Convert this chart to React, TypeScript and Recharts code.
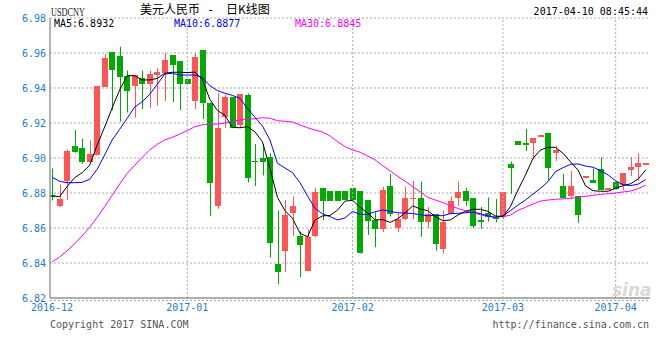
import React from 'react';
import { ComposedChart, Bar, Line, XAxis, YAxis, CartesianGrid, ReferenceLine } from 'recharts';

const opens = [6.879, 6.8727, 6.887, 6.907, 6.906, 6.898, 6.9017, 6.9407, 6.9604, 6.9583,
  6.9469, 6.9413, 6.9455, 6.9425, 6.9476, 6.9484, 6.9589, 6.9554, 6.945, 6.9327,
  6.9617, 6.9316, 6.8727, 6.9236, 6.935, 6.919, 6.936, 6.8985, 6.9, 6.9008,
  6.8394, 6.847, 6.8684, 6.8554, 6.8356, 6.8554, 6.883, 6.8811, 6.8811, 6.8811,
  6.883, 6.881, 6.876, 6.8646, 6.8596, 6.884, 6.8602, 6.8651, 6.8768, 6.877,
  6.8636, 6.8678, 6.848, 6.8678, 6.8773, 6.8811, 6.877, 6.8644, 6.8684, 6.8665,
  6.8665, 6.8966, 6.9097, 6.9087, 6.9084, 6.9122, 6.9145, 6.9027, 6.884, 6.8783,
  6.8783, 6.8893, 6.8874, 6.8935, 6.8826, 6.8865, 6.8846, 6.8931, 6.8947, 6.8969];
const highs = [6.894, 6.885, 6.905, 6.916, 6.911, 6.91, 6.941, 6.9594, 6.9604, 6.9636,
  6.95, 6.9476, 6.95, 6.95, 6.9513, 6.96, 6.9589, 6.9554, 6.945, 6.96,
  6.9617, 6.9316, 6.937, 6.936, 6.935, 6.9366, 6.937, 6.908, 6.908, 6.9027,
  6.87, 6.876, 6.878, 6.858, 6.859, 6.883, 6.883, 6.8811, 6.8811, 6.8811,
  6.883, 6.881, 6.876, 6.869, 6.8836, 6.891, 6.8684, 6.8836, 6.887, 6.8865,
  6.872, 6.868, 6.87, 6.878, 6.8865, 6.883, 6.877, 6.872, 6.8775, 6.8766,
  6.8807, 6.898, 6.9097, 6.9166, 6.9113, 6.9133, 6.9145, 6.907, 6.891, 6.8926,
  6.8783, 6.8897, 6.894, 6.9004, 6.8828, 6.8865, 6.8913, 6.9004, 6.9027, 6.8971];
const lows = [6.8757, 6.872, 6.876, 6.903, 6.8966, 6.898, 6.9017, 6.9407, 6.9274, 6.9207,
  6.926, 6.923, 6.928, 6.9287, 6.93, 6.9326, 6.9318, 6.9274, 6.9425, 6.928,
  6.9223, 6.867, 6.871, 6.917, 6.917, 6.917, 6.886, 6.884, 6.89, 6.843,
  6.828, 6.835, 6.8556, 6.832, 6.8356, 6.8547, 6.8646, 6.8756, 6.8756, 6.876,
  6.876, 6.8455, 6.856, 6.849, 6.8577, 6.8665, 6.8577, 6.8646, 6.865, 6.855,
  6.86, 6.847, 6.8455, 6.8678, 6.8726, 6.8726, 6.86, 6.8596, 6.8636, 6.8632,
  6.865, 6.8794, 6.9074, 6.904, 6.8993, 6.9122, 6.887, 6.8983, 6.8773, 6.8764,
  6.863, 6.8893, 6.8859, 6.8817, 6.8826, 6.882, 6.8817, 6.8897, 6.887, 6.8969];
const closes = [6.878, 6.8766, 6.904, 6.9034, 6.898, 6.9023, 6.941, 6.9573, 6.9503, 6.9465,
  6.9385, 6.9474, 6.9425, 6.9478, 6.9491, 6.956, 6.9531, 6.9425, 6.9425, 6.9575,
  6.9316, 6.8859, 6.9173, 6.935, 6.9173, 6.9366, 6.8884, 6.898, 6.898, 6.8513,
  6.835, 6.8674, 6.8727, 6.8503, 6.855, 6.8807, 6.8756, 6.8756, 6.8756, 6.876,
  6.876, 6.8455, 6.8642, 6.8593, 6.8817, 6.8678, 6.8651, 6.877, 6.8772, 6.8636,
  6.868, 6.8507, 6.8632, 6.8754, 6.8807, 6.8756, 6.8611, 6.864, 6.8665, 6.8651,
  6.8807, 6.8945, 6.9074, 6.9074, 6.9113, 6.9133, 6.8945, 6.9046, 6.8773, 6.884,
  6.8674, 6.8897, 6.8859, 6.8817, 6.8828, 6.8823, 6.8913, 6.8947, 6.897, 6.8971];

const ma5 = [6.8783, 6.8779, 6.8836, 6.8887, 6.8916, 6.8958, 6.9073, 6.9177, 6.9286, 6.9389,
  6.9471, 6.947, 6.9446, 6.9446, 6.9455, 6.9484, 6.949, 6.949, 6.9488, 6.9491,
  6.945, 6.9335, 6.9272, 6.9244, 6.9175, 6.9173, 6.9179, 6.915, 6.9093, 6.8941,
  6.8775, 6.8699, 6.8655, 6.857, 6.855, 6.8646, 6.8669, 6.8672, 6.8703, 6.8754,
  6.8758, 6.8718, 6.8686, 6.8646, 6.8648, 6.8632, 6.8653, 6.8687, 6.8726, 6.8709,
  6.8699, 6.8665, 6.8642, 6.8646, 6.8674, 6.8695, 6.8707, 6.8707, 6.8695, 6.8669,
  6.8665, 6.8722, 6.8817, 6.8903, 6.8998, 6.9046, 6.9061, 6.9061, 6.9027, 6.8977,
  6.8931, 6.884, 6.8813, 6.881, 6.881, 6.8827, 6.8842, 6.8853, 6.888, 6.8932];
const ma10 = [6.889, 6.8867, 6.8859, 6.8859, 6.8861, 6.8878, 6.8935, 6.9017, 6.9103, 6.9164,
  6.9227, 6.9291, 6.9322, 6.9364, 6.9421, 6.948, 6.9484, 6.9474, 6.9474, 6.9474,
  6.946, 6.9414, 6.9385, 6.937, 6.9358, 6.9341, 6.9284, 6.9233, 6.9183, 6.9103,
  6.897, 6.8943, 6.8916, 6.8859, 6.8783, 6.8712, 6.868, 6.8665, 6.8646, 6.8658,
  6.8695, 6.8678, 6.8678, 6.8693, 6.8703, 6.8695, 6.8687, 6.8686, 6.8682, 6.8676,
  6.867, 6.8672, 6.867, 6.8682, 6.8684, 6.8687, 6.8691, 6.8682, 6.8669, 6.8661,
  6.867, 6.8699, 6.8731, 6.876, 6.8794, 6.8827, 6.8865, 6.8922, 6.8945, 6.8964,
  6.8966, 6.8954, 6.8947, 6.8927, 6.8903, 6.887, 6.8847, 6.8842, 6.8851, 6.8877];
const ma30 = [6.8406, 6.8434, 6.8469, 6.851, 6.8554, 6.8604, 6.8661, 6.8722, 6.8787, 6.8851,
  6.8912, 6.8958, 6.9004, 6.9046, 6.9078, 6.9103, 6.9118, 6.9137, 6.9156, 6.9179,
  6.919, 6.9192, 6.9194, 6.92, 6.921, 6.9217, 6.9221, 6.9225, 6.923, 6.9227,
  6.9213, 6.921, 6.9206, 6.9189, 6.9173, 6.916, 6.9149, 6.9126, 6.9093, 6.9065,
  6.9046, 6.9033, 6.9011, 6.8989, 6.8956, 6.8926, 6.8895, 6.8867, 6.8836, 6.8807,
  6.8775, 6.876, 6.8745, 6.8727, 6.8712, 6.8699, 6.8686, 6.8676, 6.8665, 6.8663,
  6.8665, 6.8674, 6.8701, 6.8718, 6.8737, 6.8754, 6.876, 6.8764, 6.8766, 6.877,
  6.8775, 6.8781, 6.8787, 6.8792, 6.8796, 6.88, 6.8806, 6.8811, 6.8825, 6.8845];

const monthStarts = [0, 18, 40, 60, 75];
const monthLabels = ['2016-12', '2017-01', '2017-02', '2017-03', '2017-04'];
const yTicks = [6.82, 6.84, 6.86, 6.88, 6.9, 6.92, 6.94, 6.96, 6.98];

const symbol = 'USDCNY';
const titleA = '美元人民币';
const titleB = '日K线图';
const timestamp = '2017-04-10 08:45:44';
const copyright = 'Copyright 2017 SINA.COM';
const siteUrl = 'http://finance.sina.com.cn';

const RED = '#ff5555';
const GREEN = '#00aa00';
const BLUE_TXT = '#1a7dd0';
const MONO = '"DejaVu Sans Mono", monospace';

const data = opens.map((o, i) => ({
  i,
  open: o,
  high: highs[i],
  low: lows[i],
  close: closes[i],
  range: [lows[i], highs[i]],
  ma5: ma5[i],
  ma10: ma10[i],
  ma30: ma30[i],
}));

const xDomain = [-0.27, 79.57];

const Candle = (props: any) => {
  const { x, y, width, height, payload } = props;
  if (!payload || x == null || y == null) return null;
  const { open, close, high, low } = payload;
  const up = close >= open;
  const color = up ? RED : GREEN;
  const rng = high - low;
  const h = Math.abs(height || 0);
  const ratio = rng > 0 ? h / rng : 0;
  const yO = y + (high - open) * ratio;
  const yC = y + (high - close) * ratio;
  const top = Math.min(yO, yC);
  const bh = Math.max(1.5, Math.abs(yO - yC));
  const cx = Math.round(x + width / 2) + 0.5;
  return (
    <g>
      <line x1={cx} x2={cx} y1={y} y2={y + h} stroke={color} strokeWidth={1} />
      <rect x={Math.round(x)} y={top} width={width} height={bh} fill={color} shapeRendering="crispEdges" />
    </g>
  );
};

const last = (a: number[]) => a[a.length - 1].toFixed(4);

export default function App() {
  return (
    <div style={{ position: 'absolute', left: 0, top: 0, width: 660, height: 360, background: '#fff' }}>
      <ComposedChart width={660} height={360} data={data} margin={{ top: 18, right: 10, bottom: 42, left: 0 }}>
        <CartesianGrid vertical={false} stroke="#aaa" strokeDasharray="2 2" />
        <XAxis
          dataKey="i"
          type="number"
          domain={xDomain}
          ticks={monthStarts}
          interval={0}
          tickFormatter={(v: number) => monthLabels[monthStarts.indexOf(v)] || ''}
          height={20}
          tickSize={0}
          tickMargin={6}
          tickLine={false}
          axisLine={{ stroke: '#999', strokeWidth: 1.5 }}
          tick={{ fill: BLUE_TXT, fontSize: 10, fontFamily: MONO }}
          allowDataOverflow
        />
        <XAxis
          xAxisId="top"
          orientation="top"
          dataKey="i"
          type="number"
          domain={xDomain}
          height={0}
          tick={false}
          tickLine={false}
          axisLine={{ stroke: '#999', strokeWidth: 1.5 }}
          allowDataOverflow
        />
        <YAxis
          domain={[6.82, 6.98]}
          ticks={yTicks}
          interval={0}
          width={50}
          tickSize={0}
          tickMargin={4}
          tickLine={false}
          axisLine={{ stroke: '#999', strokeWidth: 1.5 }}
          tickFormatter={(v: number) => v.toFixed(2)}
          tick={{ fill: BLUE_TXT, fontSize: 10, fontFamily: MONO }}
          allowDataOverflow
        />
        <YAxis
          yAxisId="right"
          orientation="right"
          domain={[6.82, 6.98]}
          width={0}
          tick={false}
          tickLine={false}
          axisLine={{ stroke: '#999', strokeWidth: 2 }}
          allowDataOverflow
        />
        {monthStarts.slice(1).map((m) => (
          <ReferenceLine key={m} x={m} stroke="#aaa" strokeDasharray="2 2" />
        ))}
        <Bar dataKey="range" barSize={6} shape={(p: any) => <Candle {...p} />} isAnimationActive={false} />
        <Line type="linear" dataKey="ma30" stroke="#ff00ff" strokeWidth={1} dot={false} isAnimationActive={false} />
        <Line type="linear" dataKey="ma10" stroke="#0000ff" strokeWidth={1} dot={false} isAnimationActive={false} />
        <Line type="linear" dataKey="ma5" stroke="#000000" strokeWidth={1} dot={false} isAnimationActive={false} />
      </ComposedChart>
      <svg width={660} height={360} style={{ position: 'absolute', left: 0, top: 0, pointerEvents: 'none' }}>
        <line x1={50} x2={650} y1={300.5} y2={300.5} stroke="#aaa" strokeDasharray="2 2" />
        <text x={51} y={16} fontFamily='"Liberation Serif", serif' fontSize={12} fill="#222" textLength={34} lengthAdjust="spacingAndGlyphs">{symbol}</text>
        <text x={140} y={14} fontFamily='"Noto Sans CJK SC", sans-serif' fontSize={12} fill="#000">{titleA}</text>
        <text x={207} y={14} fontFamily={MONO} fontSize={12} fill="#000">-</text>
        <text x={226} y={14} fontFamily='"Noto Sans CJK SC", sans-serif' fontSize={12} fill="#000">{titleB}</text>
        <text x={648} y={15} textAnchor="end" fontFamily={MONO} fontSize={10} fill="#000">{timestamp}</text>
        <text x={54} y={27} fontFamily={MONO} fontSize={10} fill="#000">{`MA5:${last(ma5)}`}</text>
        <text x={174} y={27} fontFamily={MONO} fontSize={10} fill="#0000ff">{`MA10:${last(ma10)}`}</text>
        <text x={295} y={27} fontFamily={MONO} fontSize={10} fill="#ff00ff">{`MA30:${last(ma30)}`}</text>
        <text x={612} y={296} fontFamily='"DejaVu Sans", sans-serif' fontStyle="italic" fontWeight="bold" fontSize={17} fill="#d9d9d9">sina</text>
        <text x={50} y={328} fontFamily={MONO} fontSize={10} fill="#555">{copyright}</text>
        <text x={649} y={328} textAnchor="end" fontFamily={MONO} fontSize={10} fill="#555">{siteUrl}</text>
      </svg>
    </div>
  );
}
